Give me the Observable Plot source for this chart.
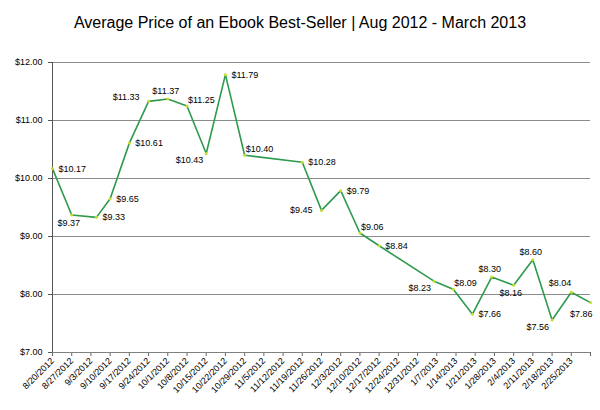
<!DOCTYPE html>
<html>
<head>
<meta charset="utf-8">
<script src="https://cdn.jsdelivr.net/npm/d3@7"></script>
<script src="https://cdn.jsdelivr.net/npm/@observablehq/plot@0.6"></script>
<style>
  html, body { margin: 0; padding: 0; background: #fff; }
  #title { width: 600px; height: 40px; box-sizing: border-box; padding-top: 14px;
    text-align: center; font: 16px "Liberation Sans", Arial, sans-serif; line-height: 18px; color: #000; }
</style>
</head>
<body>
<div id="title">Average Price of an Ebook Best-Seller | Aug 2012 - March 2013</div>
<div id="chart"></div>
<script>
// Observation dates (weekly, some weeks missing)
const dates = [
  "2012-08-20","2012-08-27","2012-09-05","2012-09-10","2012-09-17","2012-09-24",
  "2012-10-01","2012-10-08","2012-10-15","2012-10-22","2012-10-29",
  "2012-11-19","2012-11-26","2012-12-03","2012-12-10","2012-12-17",
  "2013-01-06","2013-01-13","2013-01-20","2013-01-27",
  "2013-02-04","2013-02-11","2013-02-18","2013-02-25","2013-03-04"
];
// Average price (USD)
const prices = [
  10.17, 9.37, 9.33, 9.65, 10.61, 11.33,
  11.37, 11.25, 10.43, 11.79, 10.40,
  10.28, 9.45, 9.79, 9.06, 8.84,
  8.23, 8.09, 7.66, 8.30,
  8.16, 8.60, 7.56, 8.04, 7.86
];
// Where each data label sits relative to its point
const labelSide = [
  "R","D","R","R","R","UL",
  "U","UR","DL","R","UR",
  "R","L","R","UR","R",
  "DL","UR","R","U",
  "D","U","DL","UL2","DR"
];
// Category axis ticks (weekly); the last one carries no label
const tickDates = [
  "2012-08-20","2012-08-27","2012-09-03","2012-09-10","2012-09-17","2012-09-24",
  "2012-10-01","2012-10-08","2012-10-15","2012-10-22","2012-10-29","2012-11-05",
  "2012-11-12","2012-11-19","2012-11-26","2012-12-03","2012-12-10","2012-12-17",
  "2012-12-24","2012-12-31","2013-01-07","2013-01-14","2013-01-21","2013-01-28",
  "2013-02-04","2013-02-11","2013-02-18","2013-02-25","2013-03-04"
];
const lastUnlabeled = "2013-03-04";
const yTicks = [7, 8, 9, 10, 11, 12];

const data = dates.map((d, i) => ({date: new Date(d), price: prices[i], side: labelSide[i]}));
const ticks = tickDates.map(d => new Date(d));
const fmtTick = d => {
  if (+d === +new Date(lastUnlabeled)) return "";
  return `${d.getUTCMonth() + 1}/${d.getUTCDate()}/${d.getUTCFullYear()}`;
};
const fmtPrice = d => "$" + d.price.toFixed(2);

const placements = {
  R:   {textAnchor: "start",  dx: 6,  dy: 0},
  L:   {textAnchor: "end",    dx: -9, dy: 0},
  UL:  {textAnchor: "end",    dx: -9, dy: -4},
  UL2: {textAnchor: "end",    dx: 0,  dy: -9},
  DL:  {textAnchor: "end",    dx: -3, dy: 7},
  U:   {textAnchor: "middle", dx: -2, dy: -8},
  UR:  {textAnchor: "start",  dx: 1,  dy: -6},
  D:   {textAnchor: "middle", dx: -3, dy: 8},
  DR:  {textAnchor: "end",    dx: 2,  dy: 11}
};
const labelMarks = Object.entries(placements).map(([side, p]) =>
  Plot.text(data.filter(d => d.side === side), {
    x: "date", y: "price", text: fmtPrice,
    textAnchor: p.textAnchor, dx: p.dx, dy: p.dy,
    fontSize: 9, fill: "#000"
  })
);

const chart = Plot.plot({
  width: 600,
  height: 370,
  marginTop: 22,
  marginBottom: 58,
  marginLeft: 52,
  marginRight: 10,
  style: {fontFamily: "'Liberation Sans', Arial, sans-serif", fontSize: "9px", color: "#000", background: "#fff"},
  x: {type: "utc", domain: [ticks[0], ticks[ticks.length - 1]]},
  y: {domain: [7, 12]},
  marks: [
    Plot.gridY(yTicks, {stroke: "#8c8c8c", strokeOpacity: 1, strokeWidth: 1}),
    Plot.axisY(yTicks, {tickFormat: d => "$" + d.toFixed(2), tickSize: 4, tickPadding: 6, label: null, fontSize: 9, stroke: "#555"}),
    Plot.axisX(ticks, {tickFormat: fmtTick, tickRotate: -45, tickSize: 4, tickPadding: 3, label: null, fontSize: 9, stroke: "#666"}),
    Plot.ruleY([7], {stroke: "#808080"}),
    Plot.ruleX([ticks[0]], {stroke: "#555"}),
    Plot.line(data, {x: "date", y: "price", stroke: "#2e9a4e", strokeWidth: 1.6}),
    Plot.dot(data, {x: "date", y: "price", r: 1.5, fill: "#c8dc2c", stroke: "none"}),
    ...labelMarks
  ]
});
document.getElementById("chart").appendChild(chart);
</script>
</body>
</html>
